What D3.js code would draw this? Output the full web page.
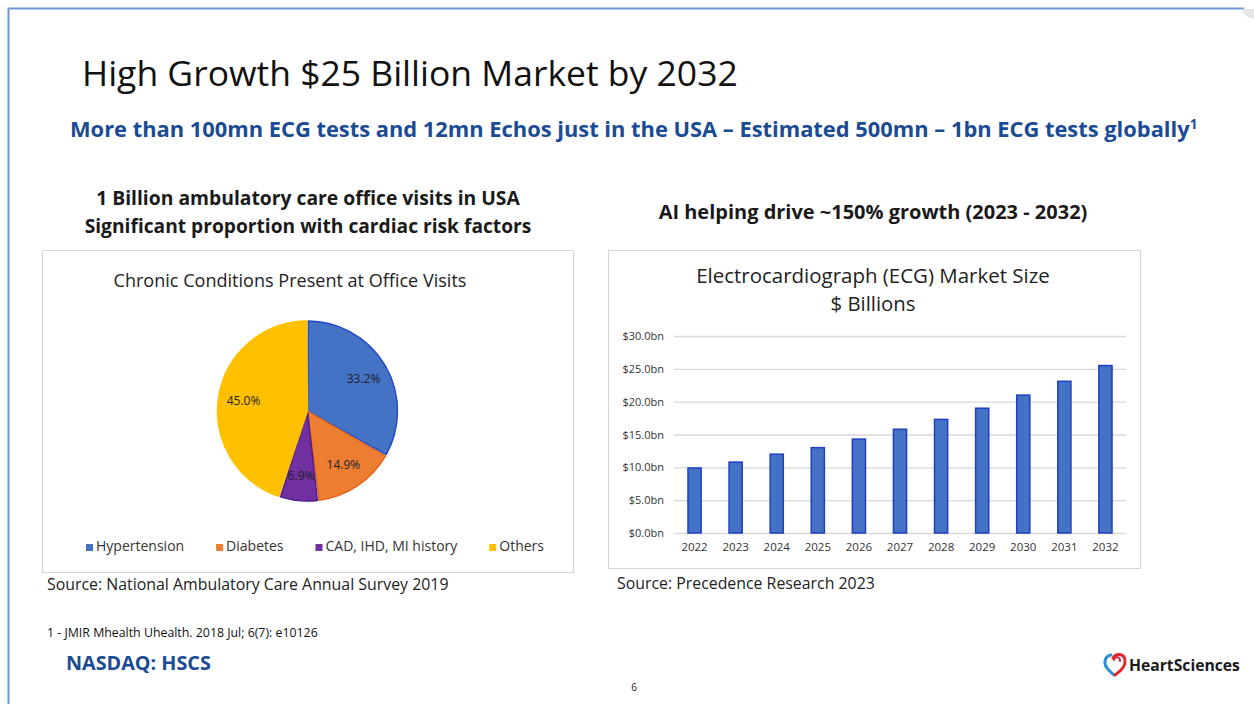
<!DOCTYPE html>
<html>
<head>
<meta charset="utf-8">
<script src="https://cdn.jsdelivr.net/npm/d3@7"></script>
<style>
  html, body { margin: 0; padding: 0; background: #fff; }
  svg { display: block; font-family: 'Open Sans', 'Noto Sans', sans-serif; }
</style>
</head>
<body>
<svg id="slide" width="1254" height="704"></svg>
<script>
'use strict';

// Pie data - chronic conditions at office visits
const pieLabels = ['Hypertension', 'Diabetes', 'CAD, IHD, MI history', 'Others'];
const pieValues = [33.2, 14.9, 6.9, 45.0];
const pieColors = ['#4472C4', '#ED7D31', '#7030A0', '#FFC000'];
const pieEdges = ['#2447c4', '#e2661b', '#4f1a8a', '#FFC000'];

// Bar data - ECG market size in $ billions
const years = ['2022', '2023', '2024', '2025', '2026', '2027', '2028', '2029', '2030', '2031', '2032'];
const marketSize = [9.9, 10.8, 12.0, 13.0, 14.3, 15.8, 17.3, 19.0, 21.0, 23.1, 25.5];
const yTicks = [0, 5, 10, 15, 20, 25, 30];

const svg = d3.select('#slide');

// Scale a text's font size so that it spans the wanted width
function fit(sel, width) {
  const len = sel.node().getComputedTextLength();
  const size = parseFloat(sel.style('font-size'));
  if (len > 0) sel.style('font-size', (size * width / len) + 'px');
  return sel;
}

function addText(x, y, str, opts) {
  const t = svg.append('text')
    .attr('x', x)
    .attr('y', y)
    .attr('text-anchor', opts.anchor || 'start')
    .attr('fill', opts.color || '#1a1a1a')
    .style('font-size', (opts.size || 14) + 'px')
    .style('font-weight', opts.weight || 'normal')
    .text(str);
  if (opts.width) fit(t, opts.width);
  return t;
}

// Slide frame (blue line at top and left)
svg.append('path')
  .attr('d', 'M8.5,704 L8.5,8.5 L1244,8.5')
  .attr('fill', 'none')
  .attr('stroke', '#6f97d6')
  .attr('stroke-width', 2);
// small page curl in the corner
svg.append('path')
  .attr('d', 'M1241,9 Q1244,17 1254,19 L1254,9 Z')
  .attr('fill', '#e6e6e6');

/* Headings */

addText(82, 86, 'High Growth $25 Billion Market by 2032', { size: 34, width: 656, color: '#111' });

const sub = addText(70, 137, 'More than 100mn ECG tests and 12mn Echos just in the USA – Estimated 500mn – 1bn ECG tests globally',
  { size: 20, weight: 'bold', color: '#1a4b94' });
sub.append('tspan')
  .attr('dy', -8)
  .style('font-size', '0.62em')
  .text('1');
fit(sub, 1128);

addText(308, 205, '1 Billion ambulatory care office visits in USA', { anchor: 'middle', size: 18, weight: 'bold', width: 424 });
addText(308, 233, 'Significant proportion with cardiac risk factors', { anchor: 'middle', size: 18, weight: 'bold', width: 447 });
addText(873, 219, 'AI helping drive ~150% growth (2023 - 2032)', { anchor: 'middle', size: 18, weight: 'bold', width: 429 });

/* Chart boxes */

svg.append('rect')
  .attr('x', 42.5).attr('y', 250.5)
  .attr('width', 531).attr('height', 322)
  .attr('fill', '#fff').attr('stroke', '#d6d6d6');
svg.append('rect')
  .attr('x', 608.5).attr('y', 250.5)
  .attr('width', 532).attr('height', 318)
  .attr('fill', '#fff').attr('stroke', '#d6d6d6');

/* Pie chart */

addText(290, 287, 'Chronic Conditions Present at Office Visits', { anchor: 'middle', size: 16, width: 353, color: '#222' });

const cx = 307.5, cy = 411, radius = 90;
const pie = d3.pie().sort(null).value(d => d.value);
const arc = d3.arc().innerRadius(0).outerRadius(radius).padAngle(0.018);
const labelArc = d3.arc().innerRadius(radius * 0.72).outerRadius(radius * 0.72);
const pieData = pieLabels.map((l, i) => ({ label: l, value: pieValues[i], color: pieColors[i], edge: pieEdges[i] }));

const pieG = svg.append('g').attr('transform', `translate(${cx}, ${cy})`);
const slices = pieG.selectAll('.slice')
  .data(pie(pieData))
  .enter().append('g')
  .attr('class', 'slice');
slices.append('path')
  .attr('d', arc)
  .attr('fill', d => d.data.color)
  .attr('stroke', d => d.data.edge)
  .attr('stroke-width', 1.4)
  .attr('stroke-linejoin', 'round');
slices.append('text')
  .attr('transform', d => `translate(${labelArc.centroid(d)})`)
  .attr('text-anchor', 'middle')
  .attr('dy', '0.35em')
  .attr('fill', '#222')
  .style('font-size', '12px')
  .text(d => d.data.value.toFixed(1) + '%');

// Legend: laid out in a row across the box
const legend = svg.append('g').attr('class', 'legend').attr('transform', 'translate(86, 551)');
const items = legend.selectAll('g')
  .data(pieData)
  .enter().append('g');
items.append('rect')
  .attr('width', 7).attr('height', 7)
  .attr('y', -7)
  .attr('fill', d => d.color);
items.append('text')
  .attr('x', 10)
  .attr('fill', '#333')
  .style('font-size', '14px')
  .text(d => d.label);
let used = 0;
items.each(function () { used += 10 + d3.select(this).select('text').node().getComputedTextLength(); });
const gap = (458 - used) / (pieData.length - 1);
let lx = 0;
items.each(function () {
  const g = d3.select(this);
  g.attr('transform', `translate(${lx}, 0)`);
  lx += 10 + g.select('text').node().getComputedTextLength() + gap;
});

addText(47, 590, 'Source: National Ambulatory Care Annual Survey 2019', { size: 14, width: 402, color: '#222' });

/* Bar chart */

addText(873, 283, 'Electrocardiograph (ECG) Market Size', { anchor: 'middle', size: 18, width: 354, color: '#222' });
addText(873, 311, '$ Billions', { anchor: 'middle', size: 18, width: 85, color: '#222' });

const plot = { left: 674, right: 1126, top: 336, bottom: 533 };
const x = d3.scaleBand().domain(years).range([plot.left, plot.right]).paddingInner(0.68).paddingOuter(0.34);
const y = d3.scaleLinear().domain([0, 30]).range([plot.bottom, plot.top]);

// Gridlines
svg.append('g')
  .attr('class', 'grid')
  .attr('transform', `translate(${plot.left}, 0)`)
  .call(d3.axisLeft(y).tickValues(yTicks).tickSize(-(plot.right - plot.left)).tickFormat(''))
  .call(g => g.select('.domain').remove())
  .call(g => g.selectAll('line').attr('stroke', '#d9d9d9').attr('stroke-width', 1.3));

// Y axis labels
svg.append('g')
  .attr('transform', `translate(${plot.left - 8}, 0)`)
  .call(d3.axisLeft(y).tickValues(yTicks).tickSize(0).tickPadding(2).tickFormat(d => `$${d.toFixed(1)}bn`))
  .call(g => g.select('.domain').remove())
  .call(g => g.selectAll('text')
    .attr('fill', '#333')
    .style('font-family', "'Open Sans', sans-serif")
    .style('font-size', '11px'));

// X axis labels
svg.append('g')
  .attr('transform', `translate(0, ${plot.bottom + 6})`)
  .call(d3.axisBottom(x).tickSize(0).tickPadding(4))
  .call(g => g.select('.domain').remove())
  .call(g => g.selectAll('text')
    .attr('fill', '#333')
    .style('font-family', "'Open Sans', sans-serif")
    .style('font-size', '11.5px'));

// Bars
svg.append('g')
  .selectAll('rect')
  .data(marketSize)
  .enter().append('rect')
  .attr('x', (d, i) => x(years[i]))
  .attr('y', d => y(d))
  .attr('width', x.bandwidth())
  .attr('height', d => y(0) - y(d))
  .attr('fill', '#4472C4')
  .attr('stroke', '#1f3fc4')
  .attr('stroke-width', 1.5);

addText(617, 589, 'Source: Precedence Research 2023', { size: 14, width: 258, color: '#222' });

/* Footer */

addText(47, 637, '1 - JMIR Mhealth Uhealth. 2018 Jul; 6(7): e10126', { size: 10.5, width: 271, color: '#111' });
addText(66, 670, 'NASDAQ: HSCS', { size: 18, weight: 'bold', width: 145, color: '#1a4b94' });
addText(634, 691, '6', { anchor: 'middle', size: 10, color: '#222' });

// HeartSciences logo
const logo = svg.append('g').attr('transform', 'translate(1104, 652)');
logo.append('path')
  .attr('d', 'M7,3 C1,4 -1,11 3,16 C5,19 8,21 10,23')
  .attr('fill', 'none').attr('stroke', '#2e8fd0').attr('stroke-width', 3).attr('stroke-linecap', 'round');
logo.append('path')
  .attr('d', 'M9,6 C12,1 20,1 21,8 C22,14 17,19 11,23')
  .attr('fill', 'none').attr('stroke', '#e0262e').attr('stroke-width', 3).attr('stroke-linecap', 'round');
logo.append('path')
  .attr('d', 'M10,8 C11,4 16,4 16,9')
  .attr('fill', 'none').attr('stroke', '#e0262e').attr('stroke-width', 2).attr('stroke-linecap', 'round');
addText(1129, 671, 'HeartSciences', { size: 15, weight: 'bold', width: 111, color: '#1a1a1a' });
</script>
</body>
</html>
